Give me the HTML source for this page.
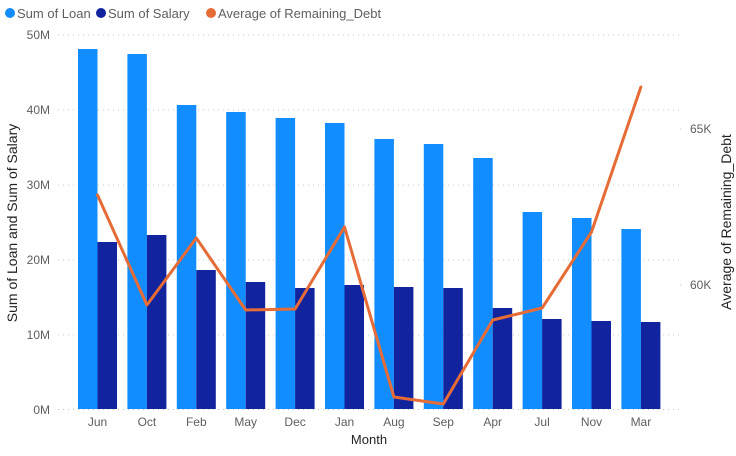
<!DOCTYPE html>
<html><head><meta charset="utf-8"><style>
html,body{margin:0;padding:0;background:#fff;}
svg{display:block;font-family:"Liberation Sans",sans-serif;}
</style></head><body>
<svg width="736" height="456" viewBox="0 0 736 456" xmlns="http://www.w3.org/2000/svg">
<g font-size="13" fill="#605E5C">
<circle cx="10" cy="13" r="5" fill="#118DFF"/><text x="17" y="18" fill="#605E5C">Sum of Loan</text>
<circle cx="101" cy="13" r="5" fill="#12239E"/><text x="108" y="18">Sum of Salary</text>
<circle cx="211" cy="13" r="5" fill="#E66C37"/><text x="218" y="18">Average of Remaining_Debt</text>
</g>
<g stroke="#C8C6C4" stroke-width="1" stroke-dasharray="1,4">
<line x1="58" x2="680" y1="35" y2="35"/><line x1="58" x2="680" y1="110" y2="110"/>
<line x1="58" x2="680" y1="185" y2="185"/><line x1="58" x2="680" y1="260" y2="260"/>
<line x1="58" x2="680" y1="335" y2="335"/><line x1="58" x2="680" y1="409.5" y2="409.5"/>
<line x1="680" x2="684" y1="129" y2="129"/><line x1="680" x2="684" y1="285" y2="285"/>
</g>
<g font-size="12" fill="#605E5C" text-anchor="end">
<text x="50" y="39">50M</text><text x="50" y="114">40M</text><text x="50" y="189">30M</text>
<text x="50" y="264">20M</text><text x="50" y="339">10M</text><text x="50" y="414">0M</text>
</g>
<g font-size="12" fill="#605E5C">
<text x="690" y="133">65K</text><text x="690" y="289">60K</text>
</g>
<text transform="translate(17,223) rotate(-90)" font-size="14" fill="#252423" text-anchor="middle">Sum of Loan and Sum of Salary</text>
<text transform="translate(731,222) rotate(-90)" font-size="14" fill="#252423" text-anchor="middle">Average of Remaining_Debt</text>
<text x="369" y="444" font-size="13" fill="#252423" text-anchor="middle">Month</text>
<g fill="#118DFF">
<rect x="78" y="49" width="19.5" height="360"/>
<rect x="127.4" y="54" width="19.5" height="355"/>
<rect x="176.8" y="105" width="19.5" height="304"/>
<rect x="226.2" y="112" width="19.5" height="297"/>
<rect x="275.6" y="118" width="19.5" height="291"/>
<rect x="325" y="123" width="19.5" height="286"/>
<rect x="374.4" y="139" width="19.5" height="270"/>
<rect x="423.8" y="144" width="19.5" height="265"/>
<rect x="473.2" y="158" width="19.5" height="251"/>
<rect x="522.6" y="212" width="19.5" height="197"/>
<rect x="572" y="218" width="19.5" height="191"/>
<rect x="621.4" y="229" width="19.5" height="180"/>
</g>
<g fill="#12239E">
<rect x="97.5" y="242" width="19.5" height="167"/>
<rect x="146.9" y="235" width="19.5" height="174"/>
<rect x="196.3" y="270" width="19.5" height="139"/>
<rect x="245.7" y="282" width="19.5" height="127"/>
<rect x="295.1" y="288" width="19.5" height="121"/>
<rect x="344.5" y="285" width="19.5" height="124"/>
<rect x="393.9" y="287" width="19.5" height="122"/>
<rect x="443.3" y="288" width="19.5" height="121"/>
<rect x="492.7" y="308" width="19.5" height="101"/>
<rect x="542.1" y="319" width="19.5" height="90"/>
<rect x="591.5" y="321" width="19.5" height="88"/>
<rect x="640.9" y="322" width="19.5" height="87"/>
</g>
<polyline fill="none" stroke="#E66C37" stroke-width="3" stroke-linejoin="round" stroke-linecap="round"
points="97.5,195 146.9,305 196.3,238 245.7,310 295.1,309 344.5,227 393.9,397 443.3,404 492.7,320 542.1,308 591.5,232 640.9,87"/>
<g font-size="12" fill="#605E5C" text-anchor="middle">
<text x="97.5" y="426">Jun</text><text x="146.9" y="426">Oct</text><text x="196.3" y="426">Feb</text>
<text x="245.7" y="426">May</text><text x="295.1" y="426">Dec</text><text x="344.5" y="426">Jan</text>
<text x="393.9" y="426">Aug</text><text x="443.3" y="426">Sep</text><text x="492.7" y="426">Apr</text>
<text x="542.1" y="426">Jul</text><text x="591.5" y="426">Nov</text><text x="640.9" y="426">Mar</text>
</g>
</svg>
</body></html>
